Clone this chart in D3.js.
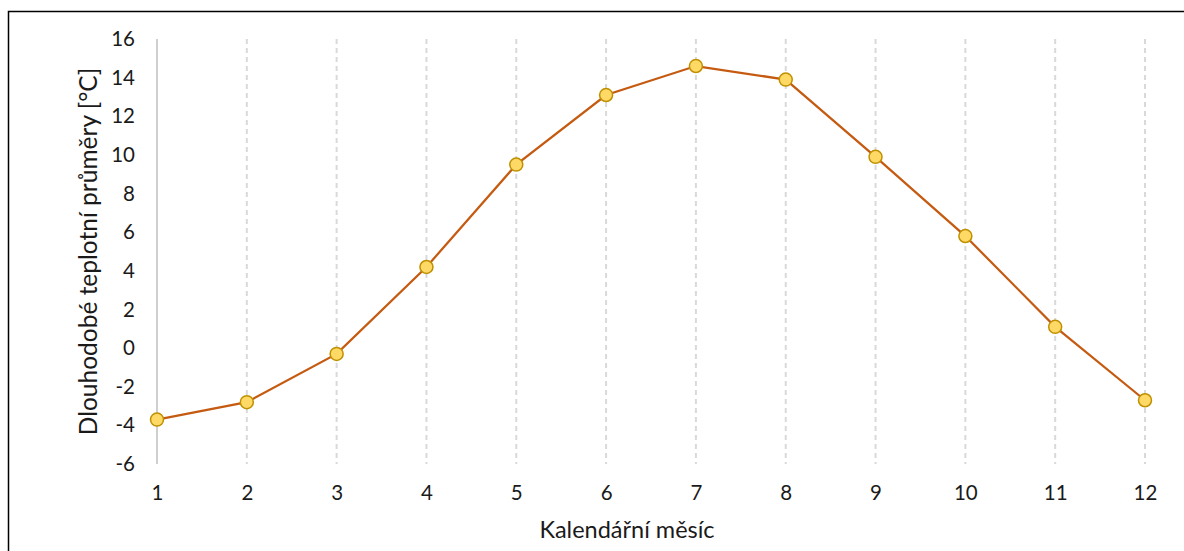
<!DOCTYPE html>
<html><head><meta charset="utf-8">
<script src="https://cdn.jsdelivr.net/npm/d3@7"></script>
<style>body{margin:0;background:#fff}svg{display:block}text{font-family:Lato,"Open Sans",sans-serif;fill:#1a1a1a}</style>
</head><body><svg id="c" width="1184" height="551"></svg>
<script>
const months = [1,2,3,4,5,6,7,8,9,10,11,12];
const temps = [-3.7,-2.8,-0.3,4.2,9.5,13.1,14.6,13.9,9.9,5.8,1.1,-2.7];
const yTicks = [-6,-4,-2,0,2,4,6,8,10,12,14,16];
const xTitle = "Kalendářní měsíc";
const yTitle = "Dlouhodobé teplotní průměry [°C]";

const svg = d3.select("#c");
svg.append("rect").attr("x",8.5).attr("y",11.5).attr("width",1190).attr("height",560)
  .attr("fill","none").attr("stroke","#000").attr("stroke-width",1.5);

const x = d3.scaleLinear().domain([1,12]).range([157,1145]);
const y = d3.scaleLinear().domain([-6,16]).range([464,39]);

// vertical dashed gridlines
svg.append("g").selectAll("line").data(months.slice(1)).join("line")
  .attr("x1",d=>x(d)).attr("x2",d=>x(d)).attr("y1",y(16)).attr("y2",y(-6))
  .attr("stroke","#d9d9d9").attr("stroke-width",2).attr("stroke-dasharray","5,4");

// y axis line
svg.append("line").attr("x1",x(1)).attr("x2",x(1)).attr("y1",y(16)).attr("y2",y(-6))
  .attr("stroke","#bfbfbf").attr("stroke-width",1.5);

const fmt = d => String(d);
// y ticks
const yAxis = d3.axisLeft(y).tickValues(yTicks).tickSize(0).tickPadding(0).tickFormat(fmt);
const gy = svg.append("g").attr("transform","translate(135,0)").call(yAxis);
gy.select(".domain").remove();
gy.attr("font-size",null).attr("font-family",null);
gy.selectAll("text").style("font-size","20.5px").attr("fill","#1a1a1a");

// x ticks
const xAxis = d3.axisBottom(x).tickValues(months).tickSize(0).tickPadding(0).tickFormat(fmt);
const gx = svg.append("g").attr("transform","translate(0,485)").call(xAxis);
gx.select(".domain").remove();
gx.attr("font-size",null).attr("font-family",null);
gx.selectAll("text").style("font-size","20.5px").attr("fill","#1a1a1a");

// titles
svg.append("text").attr("x",627).attr("y",538).attr("text-anchor","middle")
  .style("font-size","23.5px").text(xTitle);
svg.append("text").attr("transform",`translate(97,${y(5)}) rotate(-90)`).attr("text-anchor","middle")
  .style("font-size","24.5px").text(yTitle);

// line
const line = d3.line().x((d,i)=>x(months[i])).y(d=>y(d));
svg.append("path").datum(temps).attr("d",line).attr("fill","none")
  .attr("stroke","#c55a11").attr("stroke-width",2.25);

svg.append("g").selectAll("circle").data(temps).join("circle")
  .attr("cx",(d,i)=>x(months[i])).attr("cy",d=>y(d)).attr("r",6.5)
  .attr("fill","#ffd966").attr("stroke","#bf9000").attr("stroke-width",1.5);
</script></body></html>
